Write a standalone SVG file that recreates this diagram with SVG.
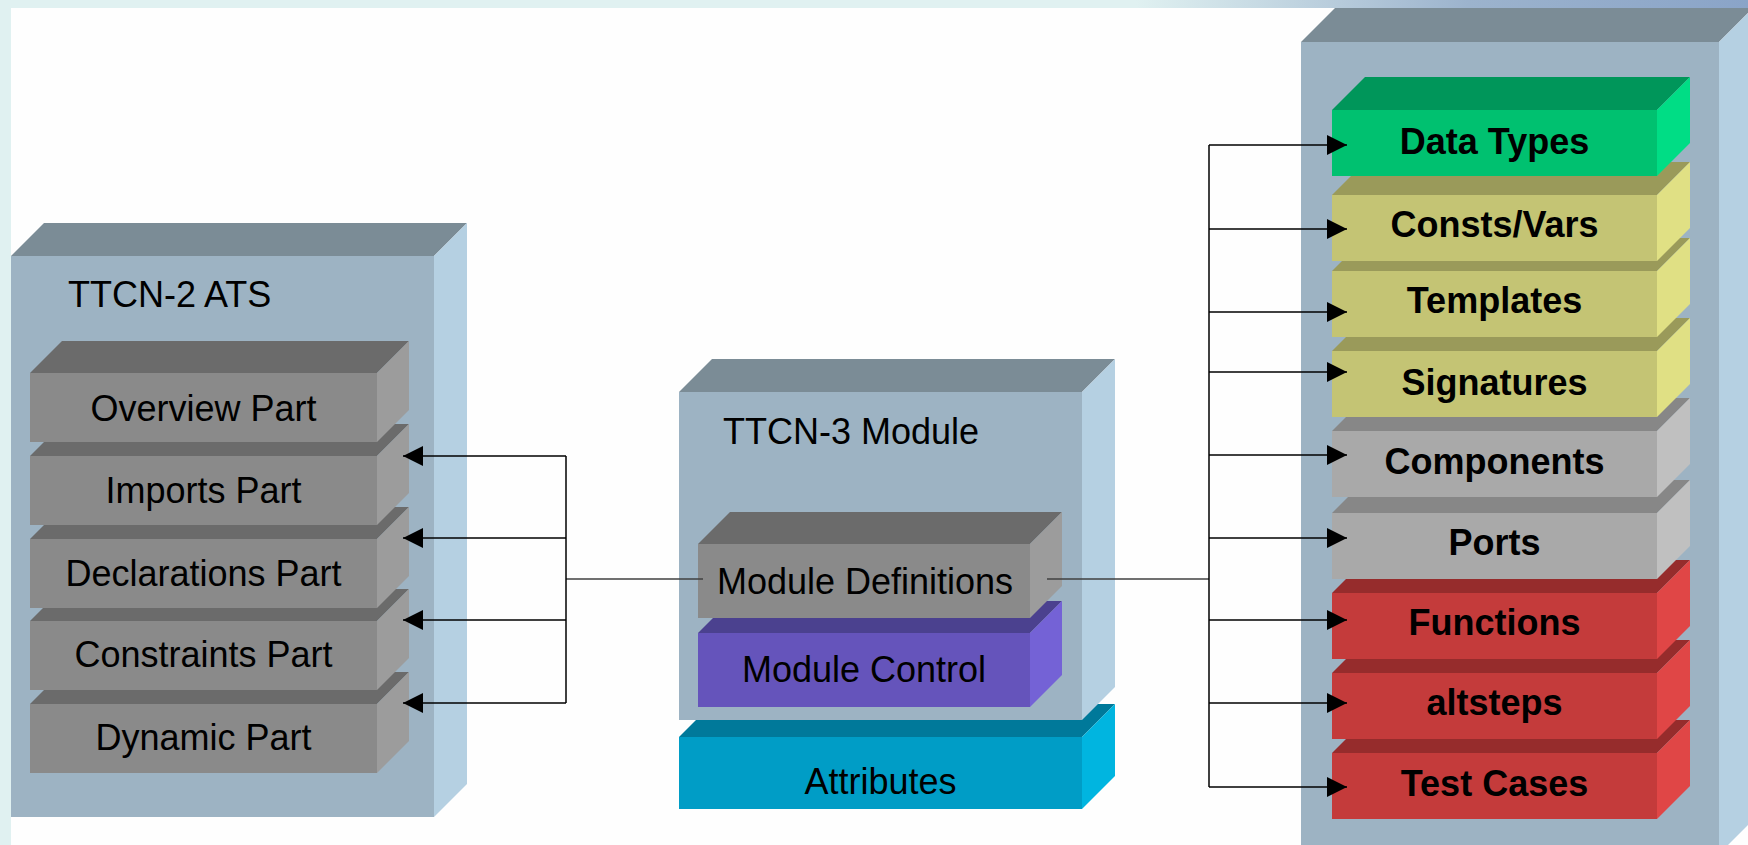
<svg xmlns="http://www.w3.org/2000/svg" width="1748" height="845" viewBox="0 0 1748 845">
  <defs>
    <linearGradient id="bandGrad" x1="0" y1="0" x2="1748" y2="0" gradientUnits="userSpaceOnUse">
      <stop offset="0" stop-color="#e0f1f1"/>
      <stop offset="0.65" stop-color="#e0f1f1"/>
      <stop offset="0.84" stop-color="#9cb3cd"/>
      <stop offset="1" stop-color="#8aa4c8"/>
    </linearGradient>
    <marker id="arrow" viewBox="0 0 20 20" refX="20" refY="10" markerWidth="20" markerHeight="20" markerUnits="userSpaceOnUse" orient="auto">
      <path d="M0,0 L20,10 L0,20 Z" fill="#000"/>
    </marker>
    <style>
      .oT{fill:#7b8c96}.oF{fill:#9db3c3}.oS{fill:#b5d0e2}
      .gT{fill:#6b6b6b}.gF{fill:#8a8a8a}.gS{fill:#9c9c9c}
      .lT{fill:#878787}.lF{fill:#a9a9a9}.lS{fill:#c0c0c0}
      .nT{fill:#00965a}.nF{fill:#00c170}.nS{fill:#00dd85}
      .yT{fill:#9a9a5a}.yF{fill:#c4c474}.yS{fill:#e0e084}
      .rT{fill:#962c2c}.rF{fill:#c43b3b}.rS{fill:#e04646}
      .pT{fill:#4b418f}.pF{fill:#6554bb}.pS{fill:#7462d6}
      .cT{fill:#00799a}.cF{fill:#009dc6}.cS{fill:#00b5e0}
      text{font-family:"Liberation Sans",Arial,sans-serif;font-size:36px;fill:#000}
      .c{text-anchor:middle}
      .b{font-weight:bold}
      .link{fill:none;stroke:#000;stroke-width:1.5}
      .stem{fill:none;stroke:#404040;stroke-width:1.5}
    </style>
  </defs>

  <rect x="0" y="0" width="1748" height="845" fill="#fefefe"/>
  <rect x="0" y="0" width="11" height="845" fill="#e0f1f1"/>

  <!-- TTCN-2 ATS container -->
  <g id="ttcn2">
    <polygon class="oT" points="11,256 44,223 467,223 434,256"/>
    <polygon class="oS" points="434,256 467,223 467,784 434,817"/>
    <rect class="oF" x="11" y="256" width="423" height="561"/>
    <text x="68" y="307">TTCN-2 ATS</text>
  </g>
  <g id="dynamic-part">
    <polygon class="gT" points="30,704 62,672 409,672 377,704"/>
    <polygon class="gS" points="377,704 409,672 409,741 377,773"/>
    <rect class="gF" x="30" y="704" width="347" height="69"/>
    <text class="c" x="203.5" y="750">Dynamic Part</text>
  </g>
  <g id="constraints-part">
    <polygon class="gT" points="30,621 62,589 409,589 377,621"/>
    <polygon class="gS" points="377,621 409,589 409,658 377,690"/>
    <rect class="gF" x="30" y="621" width="347" height="69"/>
    <text class="c" x="203.5" y="667">Constraints Part</text>
  </g>
  <g id="declarations-part">
    <polygon class="gT" points="30,539 62,507 409,507 377,539"/>
    <polygon class="gS" points="377,539 409,507 409,576 377,608"/>
    <rect class="gF" x="30" y="539" width="347" height="69"/>
    <text class="c" x="203.5" y="586">Declarations Part</text>
  </g>
  <g id="imports-part">
    <polygon class="gT" points="30,456 62,424 409,424 377,456"/>
    <polygon class="gS" points="377,456 409,424 409,493 377,525"/>
    <rect class="gF" x="30" y="456" width="347" height="69"/>
    <text class="c" x="203.5" y="503">Imports Part</text>
  </g>
  <g id="overview-part">
    <polygon class="gT" points="30,373 62,341 409,341 377,373"/>
    <polygon class="gS" points="377,373 409,341 409,410 377,442"/>
    <rect class="gF" x="30" y="373" width="347" height="69"/>
    <text class="c" x="203.5" y="421">Overview Part</text>
  </g>

  <!-- TTCN-3 module -->
  <g id="attributes">
    <polygon class="cT" points="679,737 712,704 1115,704 1082,737"/>
    <polygon class="cS" points="1082,737 1115,704 1115,776 1082,809"/>
    <rect class="cF" x="679" y="737" width="403" height="72"/>
    <text class="c" x="880.5" y="794">Attributes</text>
  </g>
  <g id="ttcn3">
    <polygon class="oT" points="679,392 712,359 1115,359 1082,392"/>
    <polygon class="oS" points="1082,392 1115,359 1115,687 1082,720"/>
    <rect class="oF" x="679" y="392" width="403" height="328"/>
    <text x="723" y="444">TTCN-3 Module</text>
  </g>
  <g id="module-control">
    <polygon class="pT" points="698,633 730,601 1062,601 1030,633"/>
    <polygon class="pS" points="1030,633 1062,601 1062,675 1030,707"/>
    <rect class="pF" x="698" y="633" width="332" height="74"/>
    <text class="c" x="864" y="682">Module Control</text>
  </g>
  <g id="module-definitions">
    <polygon class="gT" points="698,544 730,512 1062,512 1030,544"/>
    <polygon class="gS" points="1030,544 1062,512 1062,586 1030,618"/>
    <rect class="gF" x="698" y="544" width="332" height="74"/>
    <text class="c" x="865" y="594">Module Definitions</text>
  </g>

  <!-- definition kinds -->
  <g id="definitions">
    <polygon class="oT" points="1301,42 1335,8 1753,8 1719,42"/>
    <polygon class="oS" points="1719,42 1753,8 1753,820 1719,854"/>
    <rect class="oF" x="1301" y="42" width="418" height="812"/>
  </g>
  <g id="test-cases">
    <polygon class="rT" points="1332,753 1365,720 1690,720 1657,753"/>
    <polygon class="rS" points="1657,753 1690,720 1690,786 1657,819"/>
    <rect class="rF" x="1332" y="753" width="325" height="66"/>
    <text class="c b" x="1494.5" y="796">Test Cases</text>
  </g>
  <g id="altsteps">
    <polygon class="rT" points="1332,673 1365,640 1690,640 1657,673"/>
    <polygon class="rS" points="1657,673 1690,640 1690,706 1657,739"/>
    <rect class="rF" x="1332" y="673" width="325" height="66"/>
    <text class="c b" x="1494.5" y="715">altsteps</text>
  </g>
  <g id="functions">
    <polygon class="rT" points="1332,593 1365,560 1690,560 1657,593"/>
    <polygon class="rS" points="1657,593 1690,560 1690,626 1657,659"/>
    <rect class="rF" x="1332" y="593" width="325" height="66"/>
    <text class="c b" x="1494.5" y="635">Functions</text>
  </g>
  <g id="ports">
    <polygon class="lT" points="1332,513 1365,480 1690,480 1657,513"/>
    <polygon class="lS" points="1657,513 1690,480 1690,546 1657,579"/>
    <rect class="lF" x="1332" y="513" width="325" height="66"/>
    <text class="c b" x="1494.5" y="555">Ports</text>
  </g>
  <g id="components">
    <polygon class="lT" points="1332,431 1365,398 1690,398 1657,431"/>
    <polygon class="lS" points="1657,431 1690,398 1690,464 1657,497"/>
    <rect class="lF" x="1332" y="431" width="325" height="66"/>
    <text class="c b" x="1494.5" y="474">Components</text>
  </g>
  <g id="signatures">
    <polygon class="yT" points="1332,351 1365,318 1690,318 1657,351"/>
    <polygon class="yS" points="1657,351 1690,318 1690,384 1657,417"/>
    <rect class="yF" x="1332" y="351" width="325" height="66"/>
    <text class="c b" x="1494.5" y="395">Signatures</text>
  </g>
  <g id="templates">
    <polygon class="yT" points="1332,271 1365,238 1690,238 1657,271"/>
    <polygon class="yS" points="1657,271 1690,238 1690,304 1657,337"/>
    <rect class="yF" x="1332" y="271" width="325" height="66"/>
    <text class="c b" x="1494.5" y="313">Templates</text>
  </g>
  <g id="consts-vars">
    <polygon class="yT" points="1332,195 1365,162 1690,162 1657,195"/>
    <polygon class="yS" points="1657,195 1690,162 1690,228 1657,261"/>
    <rect class="yF" x="1332" y="195" width="325" height="66"/>
    <text class="c b" x="1494.5" y="237">Consts/Vars</text>
  </g>
  <g id="data-types">
    <polygon class="nT" points="1332,110 1365,77 1690,77 1657,110"/>
    <polygon class="nS" points="1657,110 1690,77 1690,143 1657,176"/>
    <rect class="nF" x="1332" y="110" width="325" height="66"/>
    <text class="c b" x="1494.5" y="154">Data Types</text>
  </g>

  <!-- connectors -->
  <g id="connectors">
    <path class="stem" d="M703,579 H566"/>
    <path class="link" d="M566,456 V703"/>
    <path class="link" d="M566,456 H403" marker-end="url(#arrow)"/>
    <path class="link" d="M566,538 H403" marker-end="url(#arrow)"/>
    <path class="link" d="M566,620 H403" marker-end="url(#arrow)"/>
    <path class="link" d="M566,703 H403" marker-end="url(#arrow)"/>

    <path class="stem" d="M1047,579 H1209"/>
    <path class="link" d="M1209,145 V787"/>
    <path class="link" d="M1209,145 H1347" marker-end="url(#arrow)"/>
    <path class="link" d="M1209,229 H1347" marker-end="url(#arrow)"/>
    <path class="link" d="M1209,312 H1347" marker-end="url(#arrow)"/>
    <path class="link" d="M1209,372 H1347" marker-end="url(#arrow)"/>
    <path class="link" d="M1209,455 H1347" marker-end="url(#arrow)"/>
    <path class="link" d="M1209,538 H1347" marker-end="url(#arrow)"/>
    <path class="link" d="M1209,620 H1347" marker-end="url(#arrow)"/>
    <path class="link" d="M1209,703 H1347" marker-end="url(#arrow)"/>
    <path class="link" d="M1209,787 H1347" marker-end="url(#arrow)"/>
  </g>

  <!-- top band -->
  <rect x="0" y="0" width="1748" height="8" fill="url(#bandGrad)"/>
</svg>
